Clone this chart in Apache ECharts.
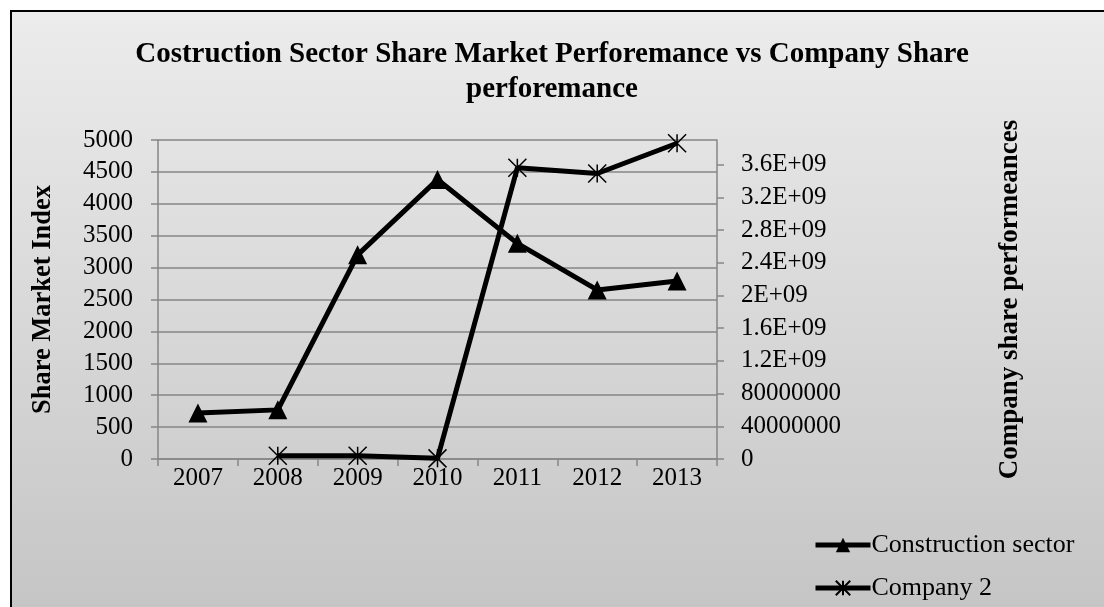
<!DOCTYPE html>
<html><head><meta charset="utf-8">
<script src="https://cdn.jsdelivr.net/npm/echarts@6/dist/echarts.min.js"></script>
<style>html,body{margin:0;padding:0;background:#fff}#c{width:1104px;height:607px}</style>
</head><body><div id="c"></div>
<script>
const titleText = 'Costruction Sector Share Market Perforemance vs Company Share\nperforemance';
const years = ['2007','2008','2009','2010','2011','2012','2013'];
const constructionSector = [720, 770, 3200, 4380, 3380, 2650, 2790];
const company2 = [null, 40000000, 40000000, 8000000, 3560000000, 3490000000, 3860000000];
const rightTickValues = [0, 400000000, 800000000, 1200000000, 1600000000, 2000000000, 2400000000, 2800000000, 3200000000, 3600000000];
const rightTickLabels = ['0','40000000','80000000','1.2E+09','1.6E+09','2E+09','2.4E+09','2.8E+09','3.2E+09','3.6E+09'];

const FONT = "'Liberation Serif','Times New Roman',serif";
const chart = echarts.init(document.getElementById('c'));
chart.setOption({
  backgroundColor: '#ffffff',
  animation: false,
  graphic: [{
    type: 'rect', z: -10, silent: true,
    shape: {x: 11, y: 11, width: 1100, height: 600},
    style: {
      fill: new echarts.graphic.LinearGradient(0, 0, 0, 1, [{offset: 0, color: '#ececec'}, {offset: 1, color: '#c5c5c5'}]),
      stroke: '#000', lineWidth: 2
    }
  }],
  title: {
    text: titleText, left: 'center', top: 32,
    textStyle: {fontFamily: FONT, fontWeight: 'bold', fontSize: 29, color: '#000', lineHeight: 35}
  },
  legend: {
    orient: 'vertical', left: 813, top: 530, bottom: 0, itemWidth: 55, itemHeight: 18, itemGap: 13,
    padding: 0,
    textStyle: {fontFamily: FONT, fontSize: 26, lineHeight: 30, color: '#000', padding: [0,0,0,-4]},
    lineStyle: {width: 5},
    data: ['Construction sector', 'Company 2']
  },
  grid: {left: 158, right: 387, top: 140, bottom: 148, containLabel: false},
  xAxis: {
    type: 'category', data: years, boundaryGap: true,
    axisLine: {lineStyle: {color: '#868686', width: 1.5}},
    axisTick: {show: true, length: 7, lineStyle: {color: '#868686', width: 1.5}},
    axisLabel: {fontFamily: FONT, fontSize: 25, color: '#000', margin: 7}
  },
  yAxis: [{
    type: 'value', min: 0, max: 5000, interval: 500,
    name: 'Share Market Index', nameLocation: 'middle', nameGap: 101,
    nameTextStyle: {fontFamily: FONT, fontWeight: 'bold', fontSize: 26.5, color: '#000'},
    axisLine: {show: true, lineStyle: {color: '#868686', width: 1.5}},
    axisTick: {show: true, length: 7, lineStyle: {color: '#868686', width: 1.5}},
    axisLabel: {fontFamily: FONT, fontSize: 25, color: '#000', margin: 25, formatter: function (v) { return String(v); }},
    splitLine: {show: true, lineStyle: {color: '#868686', width: 1.5}}
  }, {
    type: 'value', min: 0, max: 3900000000, position: 'right',
    name: 'Company share performeances', nameLocation: 'middle', nameGap: 280, nameRotate: 90,
    nameTextStyle: {fontFamily: FONT, fontWeight: 'bold', fontSize: 27, color: '#000'},
    axisLine: {show: true, lineStyle: {color: '#868686', width: 1.5}},
    axisTick: {show: true, length: 7, customValues: rightTickValues, lineStyle: {color: '#868686', width: 1.5}},
    axisLabel: {fontFamily: FONT, fontSize: 25, color: '#000', margin: 24,
      customValues: rightTickValues,
      formatter: function (v) { const i = rightTickValues.indexOf(v); return i >= 0 ? rightTickLabels[i] : ''; }},
    splitLine: {show: false}
  }],
  series: [{
    name: 'Construction sector', type: 'line', yAxisIndex: 0, data: constructionSector,
    symbol: 'triangle', symbolSize: 19, color: '#000',
    lineStyle: {color: '#000', width: 5},
    itemStyle: {color: '#000'}
  }, {
    name: 'Company 2', type: 'line', yAxisIndex: 1, data: company2,
    symbol: 'path://M0,0L10,10M10,0L0,10M5,0L5,10', symbolSize: 18, color: '#000',
    lineStyle: {color: '#000', width: 5},
    itemStyle: {color: '#000', borderColor: '#000', borderWidth: 1.5}
  }]
});
</script></body></html>
